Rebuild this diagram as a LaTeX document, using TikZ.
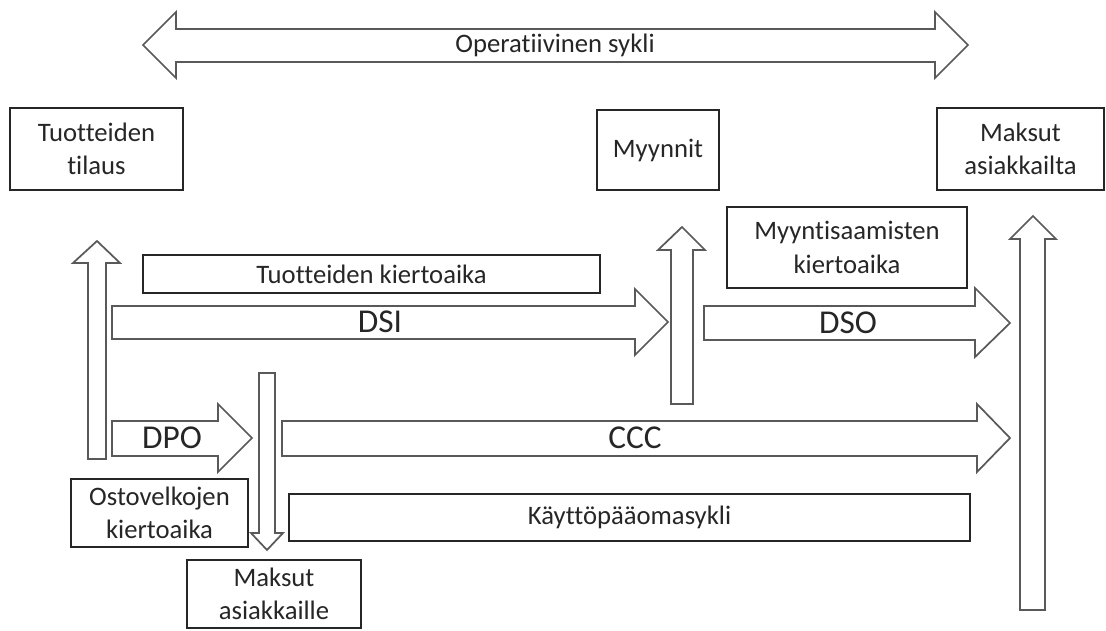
\documentclass[tikz,border=0pt]{standalone}
\usepackage{fontspec}
\setmainfont{Carlito}[Ligatures={NoCommon,NoRare}]

\begin{document}
\begin{tikzpicture}[x=0.75pt,y=-0.75pt]
\tikzset{
  blockarrow/.style={draw=black!65,fill=white,line width=1.3pt,line join=miter},
  labelbox/.style={draw=black!85,line width=1.2pt,inner sep=2pt,align=center,text=black!85,
    font={\fontsize{20}{25}\selectfont}},
  flowlabel/.style={inner sep=0pt,text=black!85,font={\fontsize{20}{25}\selectfont}},
  biglabel/.style={inner sep=0pt,text=black!85,font={\fontsize{25}{30}\selectfont}}
}
\useasboundingbox (0,0) rectangle (1106,631);
% boxes
\node[labelbox,minimum width=129.75pt,minimum height=61.5pt] (b_order) at (96.5,149) {Tuotteiden\\tilaus};
\node[labelbox,minimum width=91.5pt,minimum height=60pt] (b_sales) at (658,150) {Myynnit};
\node[labelbox,minimum width=125.25pt,minimum height=61.5pt] (b_paidin) at (1020.5,149) {Maksut\\asiakkailta};
\node[labelbox,minimum width=342.75pt,minimum height=28.5pt] (b_dsi) at (371.5,274) {Tuotteiden kiertoaika};
\node[labelbox,minimum width=180pt,minimum height=60.75pt] (b_dso) at (847,247.5) {Myyntisaamisten\\kiertoaika};
\node[labelbox,minimum width=132.75pt,minimum height=51pt] (b_dpo) at (159.5,513) {Ostovelkojen\\kiertoaika};
\node[labelbox,minimum width=510.75pt,minimum height=35.25pt] (b_ccc) at (629.5,517.5) {Käyttöpääomasykli};
\node[labelbox,minimum width=130.5pt,minimum height=51pt] (b_paidout) at (274,594) {Maksut\\asiakkaille};
% operating cycle
\draw[blockarrow] (143,45) -- (176,12) -- (176,29) -- (935,29) -- (935,12) -- (968,45)
  -- (935,78) -- (935,62) -- (176,62) -- (176,78) -- cycle;
\node[flowlabel] (l_op) at (555,45) {Operatiivinen sykli};
% vertical arrows
\draw[blockarrow] (88,459) -- (88,263) -- (73,263) -- (97,241) -- (120,263) -- (106,263) -- (106,459) -- cycle;
\draw[blockarrow] (671,404) -- (671,250) -- (658,250) -- (682,227) -- (705,250) -- (693,250) -- (693,404) -- cycle;
\draw[blockarrow] (1020,610) -- (1020,239) -- (1010,239) -- (1033,216) -- (1056,239) -- (1045,239) -- (1045,610) -- cycle;
\draw[blockarrow] (259,373) -- (259,533) -- (251,533) -- (267,550) -- (283,533) -- (275,533) -- (275,373) -- cycle;
% horizontal arrows
\draw[blockarrow] (112,306) -- (635,306) -- (635,289) -- (668,322) -- (635,355) -- (635,339) -- (112,339) -- cycle;
\draw[blockarrow] (704,306) -- (975,306) -- (975,288) -- (1010,323) -- (975,357) -- (975,340) -- (704,340) -- cycle;
\draw[blockarrow] (112,421) -- (218,421) -- (218,404) -- (252,438) -- (218,472) -- (218,456) -- (112,456) -- cycle;
\draw[blockarrow] (282,421) -- (977,421) -- (977,404) -- (1010,438) -- (977,472) -- (977,456) -- (282,456) -- cycle;
\node[biglabel] (l_dsi) at (380,322) {DSI};
\node[biglabel] (l_dso) at (848,323) {DSO};
\node[biglabel] (l_dpo) at (172,438) {DPO};
\node[biglabel] (l_ccc) at (635,438) {CCC};
\end{tikzpicture}
\end{document}
